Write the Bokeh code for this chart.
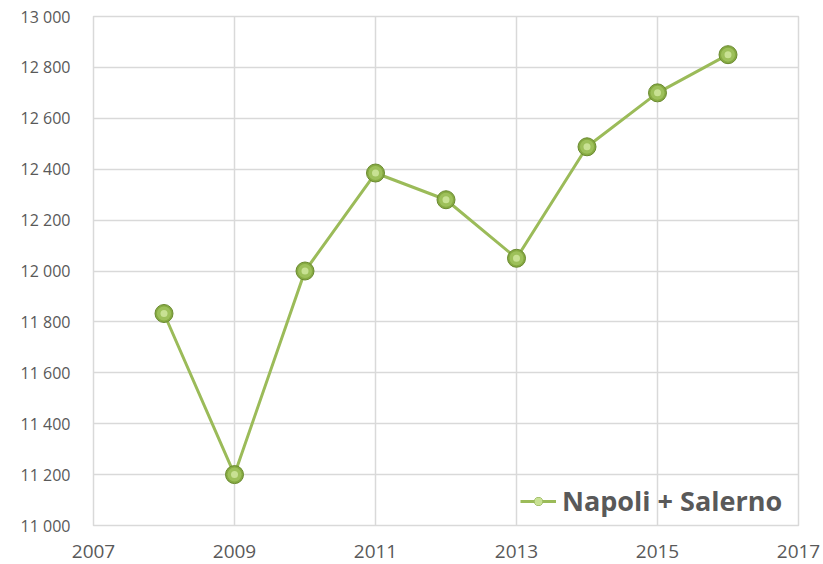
from bokeh.plotting import figure
from bokeh.models import FixedTicker, Range1d
from bokeh.embed import file_html
from bokeh.resources import INLINE

years = [2008, 2009, 2010, 2011, 2012, 2013, 2014, 2015, 2016]
values = [11833, 11200, 12000, 12385, 12280, 12050, 12488, 12700, 12850]
series_name = "Napoli + Salerno"

x_ticks = [2007, 2009, 2011, 2013, 2015, 2017]
y_ticks = [11000, 11200, 11400, 11600, 11800, 12000, 12200, 12400, 12600, 12800, 13000]
y_tick_labels = ["11 000", "11 200", "11 400", "11 600", "11 800", "12 000",
                 "12 200", "12 400", "12 600", "12 800", "13 000"]

FONT = "Open Sans"
TXT = "#595959"
GRID = "#D9D9D9"

p = figure(width=823, height=564, output_backend="svg", toolbar_location=None,
           x_range=Range1d(2007, 2017), y_range=Range1d(11000, 13000),
           min_border_left=93, min_border_right=25, min_border_top=16, min_border_bottom=39)

p.outline_line_color = GRID
p.outline_line_width = 1.5
p.background_fill_color = "white"

for ax in (p.xaxis[0], p.yaxis[0]):
    ax.axis_line_color = None
    ax.major_tick_line_color = None
    ax.minor_tick_line_color = None
    ax.major_label_text_color = TXT
    ax.major_label_text_font = FONT

p.xaxis.ticker = FixedTicker(ticks=x_ticks)
p.xaxis.major_label_text_font_size = "19px"
p.xaxis.major_label_standoff = 13
p.yaxis.ticker = FixedTicker(ticks=y_ticks)
p.yaxis.major_label_overrides = {t: l for t, l in zip(y_ticks, y_tick_labels)}
p.yaxis.major_label_text_font_size = "16px"
p.yaxis.major_label_standoff = 17

p.xgrid.grid_line_color = GRID
p.xgrid.grid_line_width = 1.5
p.ygrid.grid_line_color = GRID
p.ygrid.grid_line_width = 1.5

p.line(years, values, line_color="#9BBB59", line_width=3, legend_label=series_name)
p.scatter(years, values, size=18, fill_color="#86AA42", line_color="#6A8A2F",
          line_width=1, legend_label=series_name)
p.scatter(years, values, size=14, fill_color="#9DC05A", line_color=None,
          legend_label=series_name)
p.scatter(years, values, size=7, fill_color="#C8E193", line_color=None,
          legend_label=series_name)

lg = p.legend[0]
lg.location = (421, 0)
lg.background_fill_alpha = 0
lg.border_line_alpha = 0
lg.label_text_font = FONT
lg.label_text_font_style = "bold"
lg.label_text_font_size = "27px"
lg.label_text_color = TXT
lg.glyph_width = 36
lg.label_standoff = 6
lg.padding = 6
lg.margin = 0

open("out.html", "w").write(file_html(p, INLINE))
